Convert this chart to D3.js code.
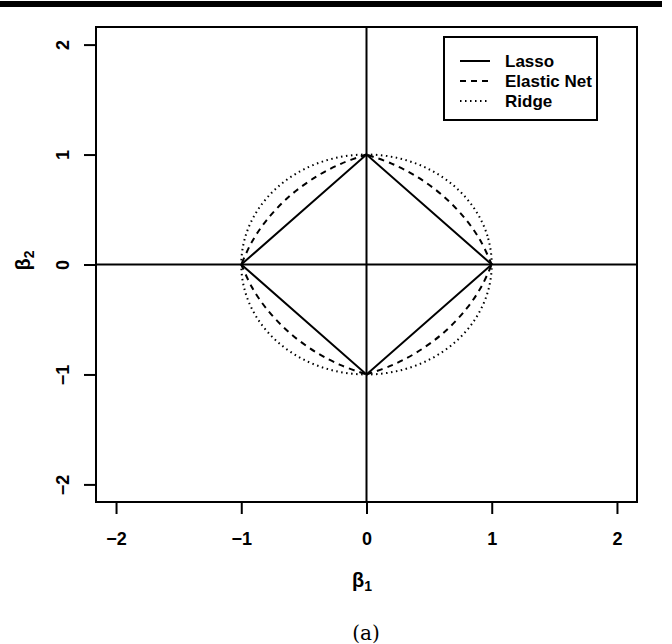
<!DOCTYPE html>
<html><head><meta charset="utf-8">
<script src="https://cdn.jsdelivr.net/npm/d3@7"></script>
<style>body{margin:0;background:#fff}</style>
</head><body>
<script>
// Data
const xTicks = [-2, -1, 0, 1, 2];
const yTicks = [-2, -1, 0, 1, 2];
const seriesNames = ["Lasso", "Elastic Net", "Ridge"];
const seriesDash = ["", "6,5", "1.5,3.5"];
// Lasso boundary points (closed)
const lassoX = [1, 0, -1, 0, 1];
const lassoY = [0, 1, 0, -1, 0];
// Elastic net boundary, quadrant by quadrant
const enetX = [
  [1, 0.918, 0.8, 0.618, 0.4, 0.2, 0],
  [0, -0.2, -0.4, -0.618, -0.8, -0.918, -1],
  [-1, -0.918, -0.8, -0.618, -0.4, -0.2, 0],
  [0, 0.2, 0.4, 0.618, 0.8, 0.918, 1]
];
const enetY = [
  [0, 0.2, 0.4, 0.618, 0.8, 0.918, 1],
  [1, 0.918, 0.8, 0.618, 0.4, 0.2, 0],
  [0, -0.2, -0.4, -0.618, -0.8, -0.918, -1],
  [-1, -0.918, -0.8, -0.618, -0.4, -0.2, 0]
];
// Ridge boundary (circle)
const ridgeX = [1, 0.966, 0.866, 0.707, 0.5, 0.259, 0, -0.259, -0.5, -0.707, -0.866, -0.966, -1, -0.966, -0.866, -0.707, -0.5, -0.259, 0, 0.259, 0.5, 0.707, 0.866, 0.966];
const ridgeY = [0, 0.259, 0.5, 0.707, 0.866, 0.966, 1, 0.966, 0.866, 0.707, 0.5, 0.259, 0, -0.259, -0.5, -0.707, -0.866, -0.966, -1, -0.966, -0.866, -0.707, -0.5, -0.259];

(function () {
const W = 672, H = 644;
const svg = d3.select("body").append("svg").attr("width", W).attr("height", H);
const pL = 96, pR = 637, pT = 27, pB = 502;
const x = d3.scaleLinear().domain([-2.16, 2.16]).range([pL, pR]);
const y = d3.scaleLinear().domain([-2.16, 2.16]).range([pB, pT]);
const font = "'Liberation Sans', Arial, sans-serif";

// top rule
svg.append("rect").attr("x", 0).attr("y", 1).attr("width", 662).attr("height", 6).attr("fill", "#000");

const g = svg.append("g");
svg.append("clipPath").attr("id", "c").append("rect").attr("x", pL).attr("y", pT).attr("width", pR - pL).attr("height", pB - pT);
const pg = g.append("g").attr("clip-path", "url(#c)");

// axes through origin
pg.append("line").attr("x1", pL).attr("x2", pR).attr("y1", y(0)).attr("y2", y(0)).attr("stroke", "#000").attr("stroke-width", 2);
pg.append("line").attr("x1", x(0)).attr("x2", x(0)).attr("y1", pT).attr("y2", pB).attr("stroke", "#000").attr("stroke-width", 2);

const line = d3.line().x(d => x(d[0])).y(d => y(d[1]));
// Ridge
pg.append("path").attr("d", d3.line().x(d => x(d[0])).y(d => y(d[1])).curve(d3.curveCardinalClosed.tension(0))(ridgeX.map((v, i) => [v, ridgeY[i]])))
  .attr("fill", "none").attr("stroke", "#000").attr("stroke-width", 2).attr("stroke-dasharray", seriesDash[2]);
// Elastic net
const enetLine = d3.line().x(d => x(d[0])).y(d => y(d[1])).curve(d3.curveCatmullRom);
let enetD = enetX.map((xs, q) => enetLine(xs.map((v, i) => [v, enetY[q][i]]))).join("");
pg.append("path").attr("d", enetD).attr("fill", "none").attr("stroke", "#000").attr("stroke-width", 2).attr("stroke-dasharray", seriesDash[1]);
// Lasso
pg.append("path").attr("d", line(lassoX.map((v, i) => [v, lassoY[i]])))
  .attr("fill", "none").attr("stroke", "#000").attr("stroke-width", 2).attr("stroke-linejoin", "miter");

// box
g.append("rect").attr("x", pL).attr("y", pT).attr("width", pR - pL).attr("height", pB - pT)
  .attr("fill", "none").attr("stroke", "#000").attr("stroke-width", 2);

// x axis
const xa = g.append("g").attr("transform", `translate(0,${pB})`)
  .call(d3.axisBottom(x).tickValues(xTicks).tickSize(12).tickPadding(18).tickFormat(d => d < 0 ? "\u2212" + Math.abs(d) : d));
xa.select(".domain").remove();
xa.selectAll(".tick line").attr("stroke-width", 2);
xa.selectAll("text").attr("font-family", font).attr("font-size", 18).attr("font-weight", "bold");

const ya = g.append("g").attr("transform", `translate(${pL},0)`)
  .call(d3.axisLeft(y).tickValues(yTicks).tickSize(12).tickFormat(d => d < 0 ? "\u2212" + Math.abs(d) : d));
ya.select(".domain").remove();
ya.selectAll(".tick line").attr("stroke-width", 2);
ya.selectAll("text").attr("font-family", font).attr("font-size", 18).attr("font-weight", "bold")
  .attr("x", null).attr("dy", null)
  .attr("transform", "translate(-33,0) rotate(-90)").attr("text-anchor", "middle").attr("dominant-baseline", "central");

// axis labels
const xl = svg.append("text").attr("x", 362).attr("y", 587).attr("text-anchor", "middle")
  .attr("font-family", font).attr("font-size", 20).attr("font-weight", "bold");
xl.append("tspan").text("\u03b2");
xl.append("tspan").attr("font-size", 14).attr("dy", 4).text("1");
const yl = svg.append("text").attr("transform", `translate(30,${y(0) - 4}) rotate(-90)`).attr("text-anchor", "middle")
  .attr("font-family", font).attr("font-size", 20).attr("font-weight", "bold");
yl.append("tspan").text("\u03b2");
yl.append("tspan").attr("font-size", 14).attr("dy", 4).text("2");

// legend
const lg = svg.append("g");
lg.append("rect").attr("x", 444).attr("y", 37).attr("width", 153).attr("height", 83).attr("fill", "#fff").attr("stroke", "#000").attr("stroke-width", 2);
seriesNames.forEach((n, i) => {
  const yy = 61 + i * 20;
  lg.append("line").attr("x1", 460).attr("x2", 490).attr("y1", yy).attr("y2", yy).attr("stroke", "#000").attr("stroke-width", 2).attr("stroke-dasharray", seriesDash[i]);
  lg.append("text").attr("x", 505).attr("y", yy).attr("dy", "0.36em").attr("font-family", font).attr("font-size", 17).attr("font-weight", "bold").text(n);
});

// caption
svg.append("text").attr("x", 366).attr("y", 640).attr("text-anchor", "middle")
  .attr("font-family", "'DejaVu Serif', 'Liberation Serif', serif").attr("font-size", 20).text("(a)");
})();
</script>
</body></html>
